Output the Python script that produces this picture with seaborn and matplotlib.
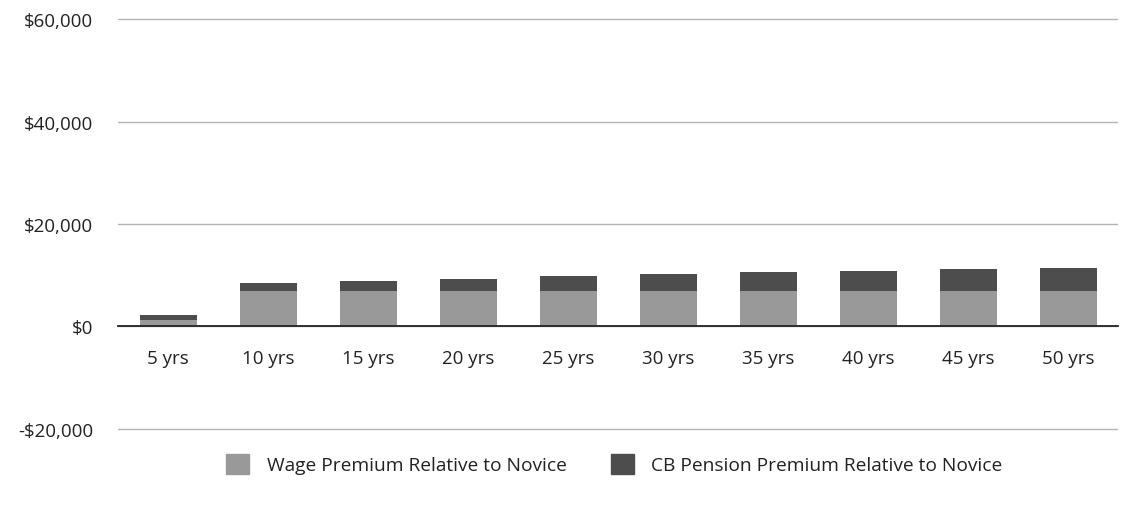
import matplotlib
matplotlib.use("Agg")
import matplotlib.pyplot as plt
import seaborn as sns
import pandas as pd
from matplotlib.patches import Patch

categories = ["5 yrs", "10 yrs", "15 yrs", "20 yrs", "25 yrs", "30 yrs", "35 yrs", "40 yrs", "45 yrs", "50 yrs"]
wage = [1170, 6850, 6850, 6850, 6850, 6850, 6850, 6850, 6850, 6850]
pension = [1090, 1540, 1930, 2440, 3020, 3430, 3690, 4020, 4350, 4600]
series_names = ["Wage Premium Relative to Novice", "CB Pension Premium Relative to Novice"]
yticks = [-20000, 0, 20000, 40000, 60000]
ytick_labels = ["-$20,000", "$0", "$20,000", "$40,000", "$60,000"]

sns.set_theme(style="white")
plt.rcParams['font.family'] = ['Open Sans', 'DejaVu Sans']

df = pd.DataFrame({"cat": categories, "wage": wage, "pension": pension})
df["total"] = df["wage"] + df["pension"]

fig = plt.figure(figsize=(11.25, 5.06), dpi=100)
ax = fig.add_axes([118/1125, 1 - 432/506, 1000/1125, 414/506])

c_wage = "#999999"
c_pen = "#4d4d4d"
sns.barplot(data=df, x="cat", y="total", color=c_pen, width=0.57, ax=ax, saturation=1, edgecolor="none")
sns.barplot(data=df, x="cat", y="wage", color=c_wage, width=0.57, ax=ax, saturation=1, edgecolor="none")

ax.set_ylim(-20400, 60400)
ax.set_xlim(-0.5, len(categories) - 0.5)
ax.set_yticks(yticks)
ax.set_yticklabels(ytick_labels)
ax.yaxis.grid(True, color="#b3b3b3", linewidth=1)
ax.set_axisbelow(True)
for s in ["top", "right", "left"]:
    ax.spines[s].set_visible(False)
ax.spines["bottom"].set_position(("data", 0))
ax.spines["bottom"].set_color("#222222")
ax.spines["bottom"].set_linewidth(1.3)
ax.set_xlabel("")
ax.set_ylabel("")
ax.tick_params(axis="x", length=0, pad=16, labelsize=13.5, colors="#222222")
ax.tick_params(axis="y", length=0, pad=18, labelsize=13.5, colors="#222222")

handles = [Patch(color=c_wage, label=series_names[0]), Patch(color=c_pen, label=series_names[1])]
fig.legend(handles=handles, loc="center", bbox_to_anchor=(0.546, 1 - 465/506), ncol=2,
           frameon=False, fontsize=13.8, handlelength=1.2, handleheight=1.2, columnspacing=2.3,
           handletextpad=0.9, labelcolor="#222222")

fig.savefig("out.png", dpi=100)
